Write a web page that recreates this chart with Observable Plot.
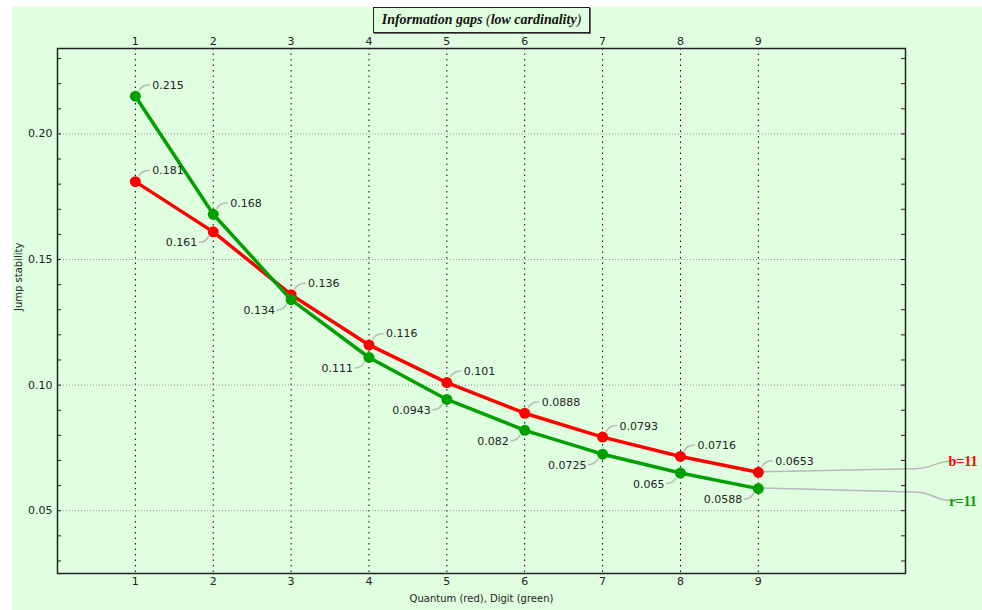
<!DOCTYPE html>
<html><head><meta charset="utf-8">
<script src="https://cdn.jsdelivr.net/npm/d3@7"></script>
<script src="https://cdn.jsdelivr.net/npm/@observablehq/plot@0.6"></script>
<style>
body{margin:0;background:#fff;}
#wrap{position:absolute;left:12px;top:7px;width:970px;height:603px;background:#e0ffe0;overflow:hidden;}
#wrap svg{position:absolute;left:0;top:0;background:transparent;}
#title{position:absolute;left:361px;top:0;width:215px;height:24px;border:1px solid #222;box-shadow:1px 1px 0 #666;font:italic bold 14px "Liberation Serif";text-align:center;line-height:24px;color:#111;z-index:2;}
#title span{font-weight:normal;}
</style></head><body>
<div id="wrap"><div id="title">Information gaps <span>(</span>low cardinality<span>)</span></div></div>
<script>
const steps = [1, 2, 3, 4, 5, 6, 7, 8, 9];
const quantum = [0.181, 0.161, 0.136, 0.116, 0.101, 0.0888, 0.0793, 0.0716, 0.0653];
const digit = [0.215, 0.168, 0.134, 0.111, 0.0943, 0.082, 0.0725, 0.065, 0.0588];
const quantumPos = ["ar", "bl", "ar", "ar", "ar", "ar", "ar", "ar", "ar"];
const digitPos = ["ar", "ar", "bl", "bl", "bl", "bl", "bl", "bl", "bl"];
const seriesNames = ["b=11", "r=11"];
const seriesColors = ["#ff0000", "#00a000"];
const yTicks = [0.05, 0.10, 0.15, 0.20];
const yMinor = [0.03, 0.04, 0.05, 0.06, 0.07, 0.08, 0.09, 0.10, 0.11, 0.12, 0.13, 0.14, 0.15, 0.16, 0.17, 0.18, 0.19, 0.20, 0.21, 0.22, 0.23];
const xLabel = "Quantum (red), Digit (green)";
const yLabel = "Jump stability";

const W = 970, H = 603, mL = 45, mT = 41, mR = 77, mB = 37;
const frameW = W - mL - mR;

const qRows = steps.map((s, i) => ({s, v: quantum[i], pos: quantumPos[i], k: 0}));
const dRows = steps.map((s, i) => ({s, v: digit[i], pos: digitPos[i], k: 1}));
const all = [...qRows, ...dRows];

function leaders(index, scales, values, dims) {
  const g = d3.create("svg:g").attr("fill", "none").attr("stroke", "#b8b8b8").attr("stroke-width", 1.5);
  for (const d of all) {
    const px = scales.x(d.s), py = scales.y(d.v);
    if (d.pos === "ar") g.append("path").attr("d", `M${px+4},${py-5}Q${px+7},${py-11} ${px+15},${py-11}`);
    else g.append("path").attr("d", `M${px-4},${py+5}Q${px-7},${py+11} ${px-14},${py+11}`);
  }
  const fr = W - mR;
  const ends = [qRows[qRows.length - 1], dRows[dRows.length - 1]];
  const offs = [-11, 13];
  ends.forEach((d, i) => {
    const px = scales.x(d.s), py = scales.y(d.v), ly = py + offs[i];
    const my = py + (offs[i] < 0 ? -3 : 4);
    g.append("path").attr("d", `M${px+5},${py}Q${(px+fr)/2},${py + (my-py)*0.4} ${fr+8},${my}C${fr+30},${my} ${fr+28},${ly} ${fr+52},${ly}`);
    g.append("text").attr("x", fr + 58).attr("y", ly).attr("dy", "0.35em")
      .attr("stroke", "none").attr("fill", seriesColors[i])
      .attr("font-family", "Liberation Serif").attr("font-weight", "bold").attr("font-size", 14)
      .text(seriesNames[i]);
  });
  return g.node();
}

const lblStyle = {fontSize: 11, fill: "#222"};
const chart = Plot.plot({
  width: W, height: H,
  marginLeft: mL, marginTop: mT, marginRight: mR, marginBottom: mB,
  style: {fontFamily: "DejaVu Sans", background: "transparent", color: "#222", overflow: "visible"},
  x: {domain: [0, 10.89]},
  y: {domain: [0.025, 0.234]},
  marks: [
    Plot.gridX(steps, {stroke: "#000", strokeOpacity: 1, strokeDasharray: "1.5,4"}),
    Plot.gridY(yTicks, {stroke: "#999", strokeOpacity: 1, strokeDasharray: "1,2"}),
    Plot.ruleY(yMinor, {stroke: "#222", insetRight: frameW - 4}),
    Plot.ruleY(yMinor, {stroke: "#222", insetLeft: frameW - 4}),
    Plot.axisX(steps, {anchor: "top", tickSize: 0, tickPadding: 4, fontSize: 11, label: null}),
    Plot.axisX(steps, {anchor: "bottom", tickSize: 0, tickPadding: 4, fontSize: 11, label: null}),
    Plot.axisY(yTicks, {anchor: "left", tickSize: 0, tickPadding: 5, fontSize: 11, tickFormat: d3.format(".2f"), label: null}),
    Plot.text([yLabel], {frameAnchor: "left", text: d => d, rotate: -90, dx: -39, fontSize: 10, fill: "#222"}),
    Plot.text([xLabel], {frameAnchor: "bottom", text: d => d, dy: 28, fontSize: 10, fill: "#222"}),
    leaders,
    Plot.line(qRows, {x: "s", y: "v", stroke: seriesColors[0], strokeWidth: 3.5}),
    Plot.dot(qRows, {x: "s", y: "v", r: 5.5, fill: seriesColors[0]}),
    Plot.line(dRows, {x: "s", y: "v", stroke: seriesColors[1], strokeWidth: 3.5}),
    Plot.dot(dRows, {x: "s", y: "v", r: 5.5, fill: seriesColors[1]}),
    Plot.text(all.filter(d => d.pos === "ar"), {x: "s", y: "v", text: d => String(d.v), dx: 17, dy: -11, textAnchor: "start", ...lblStyle}),
    Plot.text(all.filter(d => d.pos === "bl"), {x: "s", y: "v", text: d => String(d.v), dx: -16, dy: 11, textAnchor: "end", ...lblStyle}),
    Plot.frame({stroke: "#222", strokeWidth: 1.5})
  ]
});
document.getElementById("wrap").appendChild(chart);
</script>
</body></html>
